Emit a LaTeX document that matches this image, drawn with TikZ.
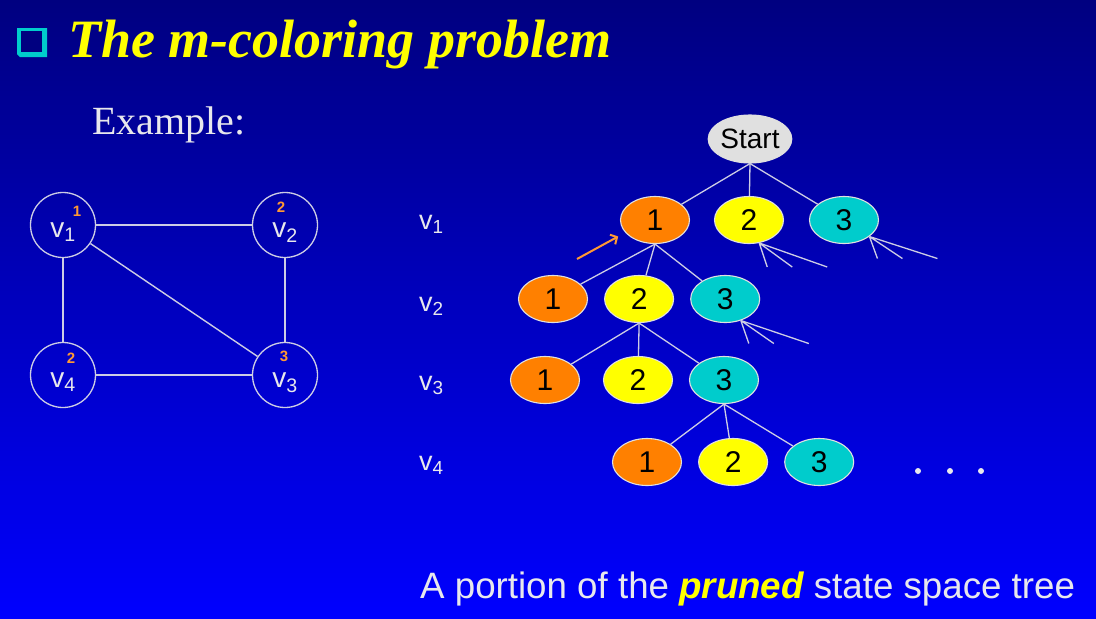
\documentclass[tikz,border=0pt]{standalone}
\usepackage{fontspec}
\setmainfont{Liberation Serif}
\setsansfont{Liberation Sans}
\usetikzlibrary{arrows.meta,positioning,shapes.geometric}
\definecolor{slidetop}{RGB}{0,0,128}
\definecolor{slidebot}{RGB}{0,0,255}
\definecolor{txtgray}{RGB}{232,232,236}
\definecolor{edgegray}{RGB}{205,205,228}
\definecolor{cone}{RGB}{255,128,0}
\definecolor{ctwo}{RGB}{255,255,0}
\definecolor{cthree}{RGB}{0,204,204}
\definecolor{startgray}{RGB}{224,224,224}
\definecolor{handorange}{RGB}{255,153,51}
\tikzset{
  vtx/.style      = {draw=edgegray, line width=1.3pt, circle, minimum size=65pt,
                     inner sep=0pt, text=txtgray, text height=28pt, text depth=4pt,
                     font=\sffamily\fontsize{28}{28}\selectfont},
  gedge/.style    = {draw=edgegray, line width=1.4pt},
  handnum/.style  = {text=handorange, inner sep=0pt,
                     font=\sffamily\bfseries\fontsize{15}{15}\selectfont},
  statenode/.style= {draw=startgray, line width=1.1pt, ellipse, minimum width=69pt,
                     minimum height=47pt, inner sep=0pt, text=black,
                     font=\sffamily\fontsize{30}{30}\selectfont},
  sone/.style     = {statenode, fill=cone},
  stwo/.style     = {statenode, fill=ctwo},
  sthree/.style   = {statenode, fill=cthree},
  tedge/.style    = {draw=edgegray, line width=1.3pt},
  prune/.style    = {draw=edgegray, line width=1.3pt},
  dotmark/.style  = {fill=txtgray, circle, inner sep=0pt, minimum size=6pt},
}
\begin{document}
\begin{tikzpicture}[x=1pt, y=-1pt, node distance=16pt,
   rowlbl/.style={anchor=base west, text=txtgray, inner sep=0pt,
                  font=\sffamily\fontsize{27}{27}\selectfont}]
% slide background
\shade[top color=slidetop, bottom color=slidebot] (0,0) rectangle (1096,619);
\useasboundingbox (0,0) rectangle (1096,619);
% title line
\fill[cthree] (17,28) -- (47,28) -- (47,57) -- (20,57) -- (17,54) -- cycle;
\fill[slidetop] (21,31) rectangle (42,52);
\node[anchor=base west, inner sep=0pt, text=ctwo,
      font=\bfseries\itshape\fontsize{54}{54}\selectfont] (title) at (68,57)
  {The m-coloring problem};
\node[anchor=base west, inner sep=0pt, text=txtgray,
      font=\fontsize{40}{40}\selectfont] (example) at (92,134) {Example:};
% the graph
\node[vtx] (v1) at (63,225) {v\textsubscript{1}};
\node[vtx] (v2) at (285,225) {v\textsubscript{2}};
\node[vtx] (v3) at (285,375) {v\textsubscript{3}};
\node[vtx] (v4) at (63,375) {v\textsubscript{4}};
\draw[gedge] (v1) -- (v2);
\draw[gedge] (v1) -- (v4);
\draw[gedge] (v2) -- (v3);
\draw[gedge] (v4) -- (v3);
\draw[gedge] (v1) -- (v3);
\node[handnum] (h1) at (77,211) {1};
\node[handnum] (h2) at (281,207) {2};
\node[handnum] (h3) at (284,356) {3};
\node[handnum] (h4) at (71,358) {2};
% row labels
\foreach \i/\y in {1/229,2/311,3/390,4/470}
  \node[rowlbl] (lv\i) at (419,\y) {v\textsubscript{\i}};
% state space tree
\node[statenode, fill=startgray, minimum width=70pt, minimum height=48pt,
      font=\sffamily\fontsize{28}{28}\selectfont] (start) at (750,139) {Start};
\node[sone] (r11) at (655,220) {1};
\node[stwo] (r12) at (749,220) {2};
\node[sthree] (r13) at (844,220) {3};
\node[sone] (r21) at (553,299) {1};
\node[stwo, right=of r21] (r22) {2};
\node[sthree, right=of r22] (r23) {3};
\node[sone] (r31) at (545,380) {1};
\node[stwo] (r32) at (638,380) {2};
\node[sthree] (r33) at (724,380) {3};
\node[sone] (r41) at (647,462) {1};
\node[stwo, right=of r41] (r42) {2};
\node[sthree, right=of r42] (r43) {3};
\foreach \c in {r11,r12,r13} \draw[tedge] (start.south) -- (\c);
\foreach \c in {r21,r22,r23} \draw[tedge] (r11.south) -- (\c);
\foreach \c in {r31,r32,r33} \draw[tedge] (r22.south) -- (\c);
\foreach \c in {r41,r42,r43} \draw[tedge] (r33.south) -- (\c);
% pruned branches
\foreach \n/\a/\d in {r12/-66/24, r13/-33/22, r23/-54/23}
  \draw[prune] (\n.\a) -- ++(8,\d) (\n.\a) -- ++(33,\d) (\n.\a) -- ++(68,\d);
% hand drawn pointer
\coordinate (hint) at (577,259);
\draw[handorange, line width=2pt, shorten >=8pt,
      -{Straight Barb[length=5pt, width=11pt]}] (hint) -- (r11.203);
\foreach \x [count=\k] in {918,950,981}
  \node[dotmark] (dot\k) at (\x,471) {};
\node[anchor=base west, inner sep=0pt, text=txtgray,
      font=\sffamily\fontsize{36.7}{36.7}\selectfont] (caption) at (420,598)
  {A portion of the \textcolor{ctwo}{\bfseries\itshape pruned} state space tree};
\end{tikzpicture}
\end{document}
